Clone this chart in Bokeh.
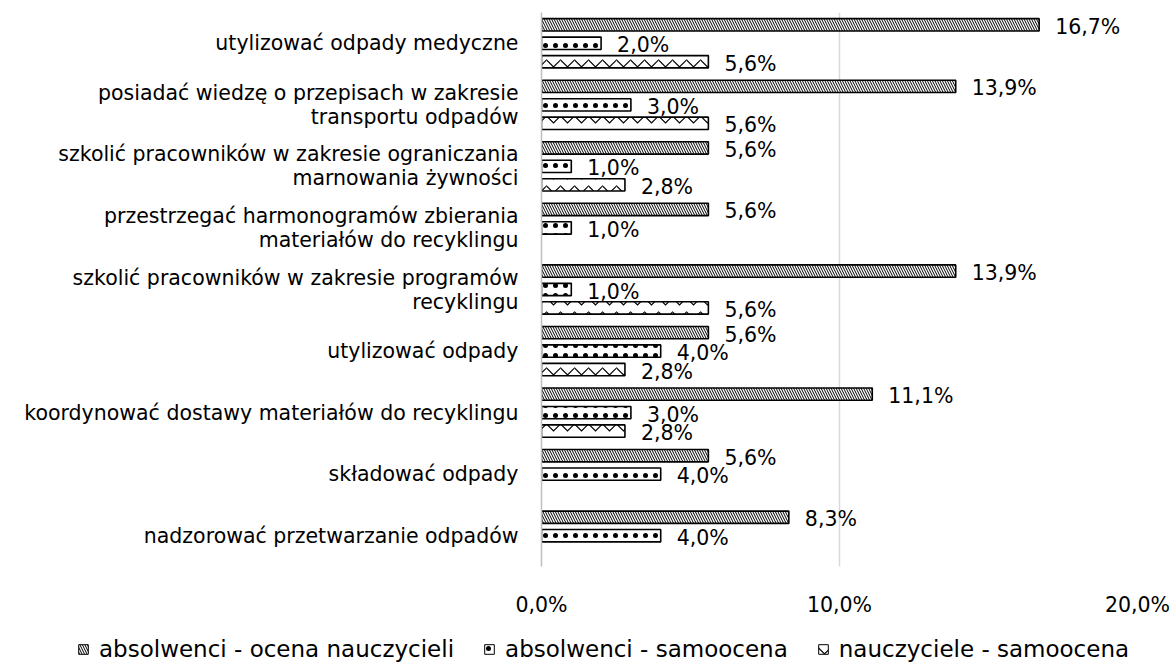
import numpy as np
from bokeh.plotting import figure
from bokeh.layouts import column
from bokeh.models import (ColumnDataSource, Range1d, FixedTicker, Legend, LegendItem)
from bokeh.core.properties import value
from bokeh.embed import file_html
from bokeh.resources import INLINE

categories = [
    "utylizować odpady medyczne",
    "posiadać wiedzę o przepisach w zakresie\ntransportu odpadów",
    "szkolić pracowników w zakresie ograniczania\nmarnowania żywności",
    "przestrzegać harmonogramów zbierania\nmateriałów do recyklingu",
    "szkolić pracowników w zakresie programów\nrecyklingu",
    "utylizować odpady",
    "koordynować dostawy materiałów do recyklingu",
    "składować odpady",
    "nadzorować przetwarzanie odpadów",
]
series_names = ["absolwenci - ocena nauczycieli", "absolwenci - samoocena", "nauczyciele - samoocena"]
abs_ocena = [16.7, 13.9, 5.6, 5.6, 13.9, 5.6, 11.1, 5.6, 8.3]
abs_samo = [2.0, 3.0, 1.0, 1.0, 1.0, 4.0, 3.0, 4.0, 4.0]
naucz_samo = [5.6, 5.6, 2.8, None, 5.6, 2.8, 2.8, None, None]
x_ticks = [0, 10, 20]
x_tick_labels = ["0,0%", "10,0%", "20,0%"]

FONT = "DejaVu Sans"
FS = "20.5px"

p = figure(frame_width=596, frame_height=554, output_backend="svg", toolbar_location=None,
           x_range=Range1d(0, 20), y_range=Range1d(8.5, -0.5),
           min_border_left=541, min_border_right=39, min_border_top=12, min_border_bottom=54)
p.outline_line_color = None
p.background_fill_color = "white"

# legend strip below the chart (same series, drawn out of its visible range)
lg = figure(width=1176, height=43, output_backend="svg", toolbar_location=None,
            x_range=Range1d(0, 1), y_range=Range1d(100, 101),
            x_axis_location=None, y_axis_location=None, min_border=0)
lg.outline_line_color = None
lg.grid.visible = False

for f in (p, lg):
    if "frame_align" in f.properties():
        f.frame_align = False

offsets = [-0.3, 0.0, 0.3]
hatches = ["\\", ".", "v"]
hscales = [5, 10, 14]
hweights = [1.0, 0.8, 1.2]
legend_renderers = []
for k, vals in enumerate([abs_ocena, abs_samo, naucz_samo]):
    idx = [i for i, v in enumerate(vals) if v is not None]
    ys = [i + offsets[k] for i in idx]
    xs = [vals[i] for i in idx]
    labels = [("%.1f%%" % vals[i]).replace(".", ",") for i in idx]
    src = ColumnDataSource(dict(y=ys, right=xs, lab=labels))
    style = dict(fill_color="white", line_color="black", line_width=1.6,
                 hatch_pattern=hatches[k], hatch_color="black", hatch_scale=hscales[k],
                 hatch_weight=hweights[k])
    p.hbar(y="y", right="right", left=0, height=0.2, source=src, **style)
    lr = lg.hbar(y="y", right="right", left=0, height=0.2, source=src,
                 **dict(style, line_width=1.0))
    legend_renderers.append(lr)
    p.text(x="right", y="y", text="lab", source=src, x_offset=16, y_offset=2,
           text_baseline="middle", text_align="left", text_color="black",
           text_font=value(FONT), text_font_size=FS)

p.yaxis.ticker = FixedTicker(ticks=list(range(len(categories))))
p.yaxis.axis_line_color = "#bfbfbf"
p.yaxis.axis_line_width = 1.5
p.yaxis.major_tick_line_color = None
p.yaxis.minor_tick_line_color = None
p.yaxis.major_tick_out = 0
p.yaxis.major_label_overrides = {i: c for i, c in enumerate(categories)}
p.yaxis.major_label_standoff = 23
p.yaxis.major_label_text_font = FONT
p.yaxis.major_label_text_font_size = FS
p.yaxis.major_label_text_color = "black"
p.yaxis.major_label_text_line_height = 1.0

p.xaxis.ticker = FixedTicker(ticks=x_ticks)
p.xaxis.major_label_overrides = {t: l for t, l in zip(x_ticks, x_tick_labels)}
p.xaxis.axis_line_color = None
p.xaxis.major_tick_line_color = None
p.xaxis.minor_tick_line_color = None
p.xaxis.major_tick_out = 0
p.xaxis.major_label_standoff = 26
p.xaxis.major_label_text_font = FONT
p.xaxis.major_label_text_font_size = FS
p.xaxis.major_label_text_color = "black"

p.ygrid.grid_line_color = None
p.xgrid.grid_line_color = "#d9d9d9"
p.xgrid.grid_line_width = 1.5

legend = Legend(items=[LegendItem(label=n, renderers=[r]) for n, r in zip(series_names, legend_renderers)],
                orientation="horizontal", location=(77, 1),
                label_text_font=FONT, label_text_font_size="23px", label_text_color="black",
                glyph_width=12, glyph_height=12, spacing=29, label_standoff=10,
                border_line_color=None, background_fill_alpha=0, padding=0, margin=0)
lg.add_layout(legend, "center")

layout = column(p, lg, spacing=0)
open("out.html", "w").write(file_html(layout, INLINE))
